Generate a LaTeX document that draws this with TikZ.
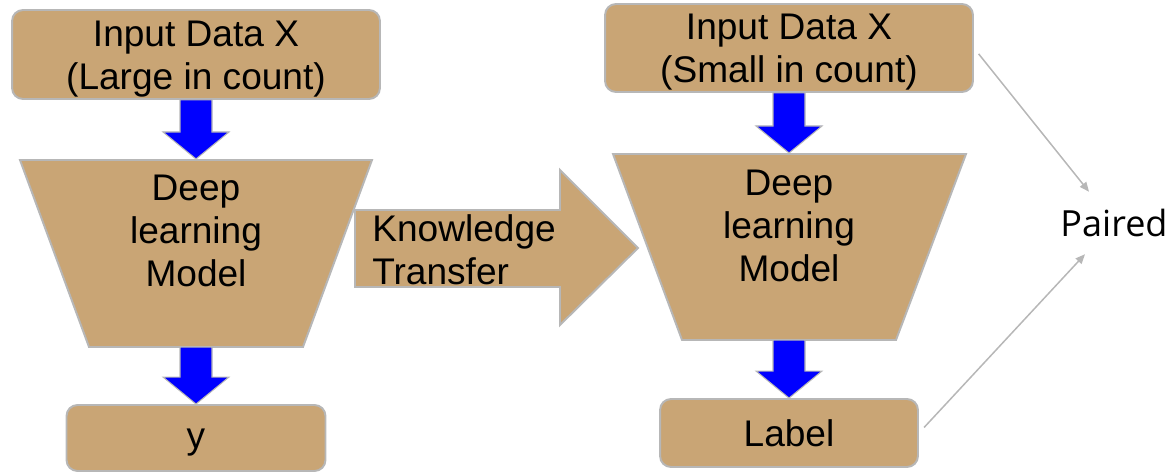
\documentclass[tikz,border=0pt]{standalone}
\usepackage{fontspec}
\setmainfont{Liberation Sans}
\newfontfamily\pairedfont{Open Sans}
\usetikzlibrary{calc,arrows.meta}
\definecolor{tanfill}{RGB}{201,165,117}
\definecolor{edgegray}{RGB}{183,183,183}
\newcommand{\bodyfont}{\fontsize{21.1}{24.5}\selectfont}
\newcommand{\pairfont}{\fontsize{20.5}{24.5}\selectfont}
\newcommand{\bluedown}[2]{%
  \filldraw[bluearrow] ($(#1)+(-16,0)$) -- ($(#1)+(16,0)$) -- ($(#2)+(16,-27)$) -- ($(#2)+(33,-27)$) -- (#2) -- ($(#2)+(-33,-27)$) -- ($(#2)+(-16,-27)$) -- cycle;}

\begin{document}
\begin{tikzpicture}[x=0.02cm, y=-0.02cm,
    box/.style={draw=edgegray, fill=tanfill, line width=1.1pt, rounded corners=0.22cm, inner sep=0pt},
    shapebox/.style={draw=edgegray, fill=tanfill, line width=1.1pt},
    bluearrow/.style={draw=edgegray, fill=blue, line width=0.6pt},
    txt/.style={inner sep=0pt, align=center, font=\bodyfont},
    pairline/.style={draw=edgegray, line width=0.85pt, -{Triangle[length=5.5pt,width=4.5pt]}, shorten <=0.15cm}]
    \useasboundingbox (0,0) rectangle (1173,473);
    % left column
    \node[box, minimum width=7.36cm, minimum height=1.78cm] (inL) at (196,54.5) {};
    \node[txt] (inLtext) at (196,59.5) {Input Data X\\(Large in count)};
    \coordinate (dlLtop) at (196,159);
    \coordinate (dlLbot) at (196,347);
    \filldraw[shapebox] (20,160) -- (372,160) -- (303,347) -- (89,347) -- cycle;
    \node[txt] (dlL) at (196,231) {Deep\\learning\\Model};
    \node[box, minimum width=5.18cm, minimum height=1.32cm] (yL) at (196,438) {};
    \node[txt] (yLtext) at (196,443) {y};
    \bluedown{inL.south}{dlLtop}
    \bluedown{dlLbot}{yL.north}
    % knowledge transfer
    \filldraw[shapebox] (355,210) -- (560,210) -- (560,170) -- (638,248) -- (560,325) -- (560,287) -- (355,287) -- cycle;
    \node[txt, anchor=west, align=left] (kt) at (372,250) {Knowledge\\Transfer};
    % right column
    \node[box, minimum width=7.36cm, minimum height=1.76cm] (inR) at (789,48) {};
    \node[txt] (inRtext) at (789,52.5) {Input Data X\\(Small in count)};
    \coordinate (dlRtop) at (789,153);
    \coordinate (dlRbot) at (789,340);
    \filldraw[shapebox] (613,154) -- (966,154) -- (896,340) -- (682,340) -- cycle;
    \node[txt] (dlR) at (789,226) {Deep\\learning\\Model};
    \node[box, minimum width=5.16cm, minimum height=1.36cm] (lblR) at (789,433) {};
    \node[txt] (lblRtext) at (789,433) {Label};
    \bluedown{inR.south}{dlRtop}
    \bluedown{dlRbot}{lblR.north}
    % paired
    \node[inner sep=0.34cm, font=\pairedfont\pairfont] (paired) at (1114,223) {Paired};
    \draw[pairline] (inR.east) -- (paired);
    \draw[pairline] (lblR.east) -- (paired);
\end{tikzpicture}
\end{document}
